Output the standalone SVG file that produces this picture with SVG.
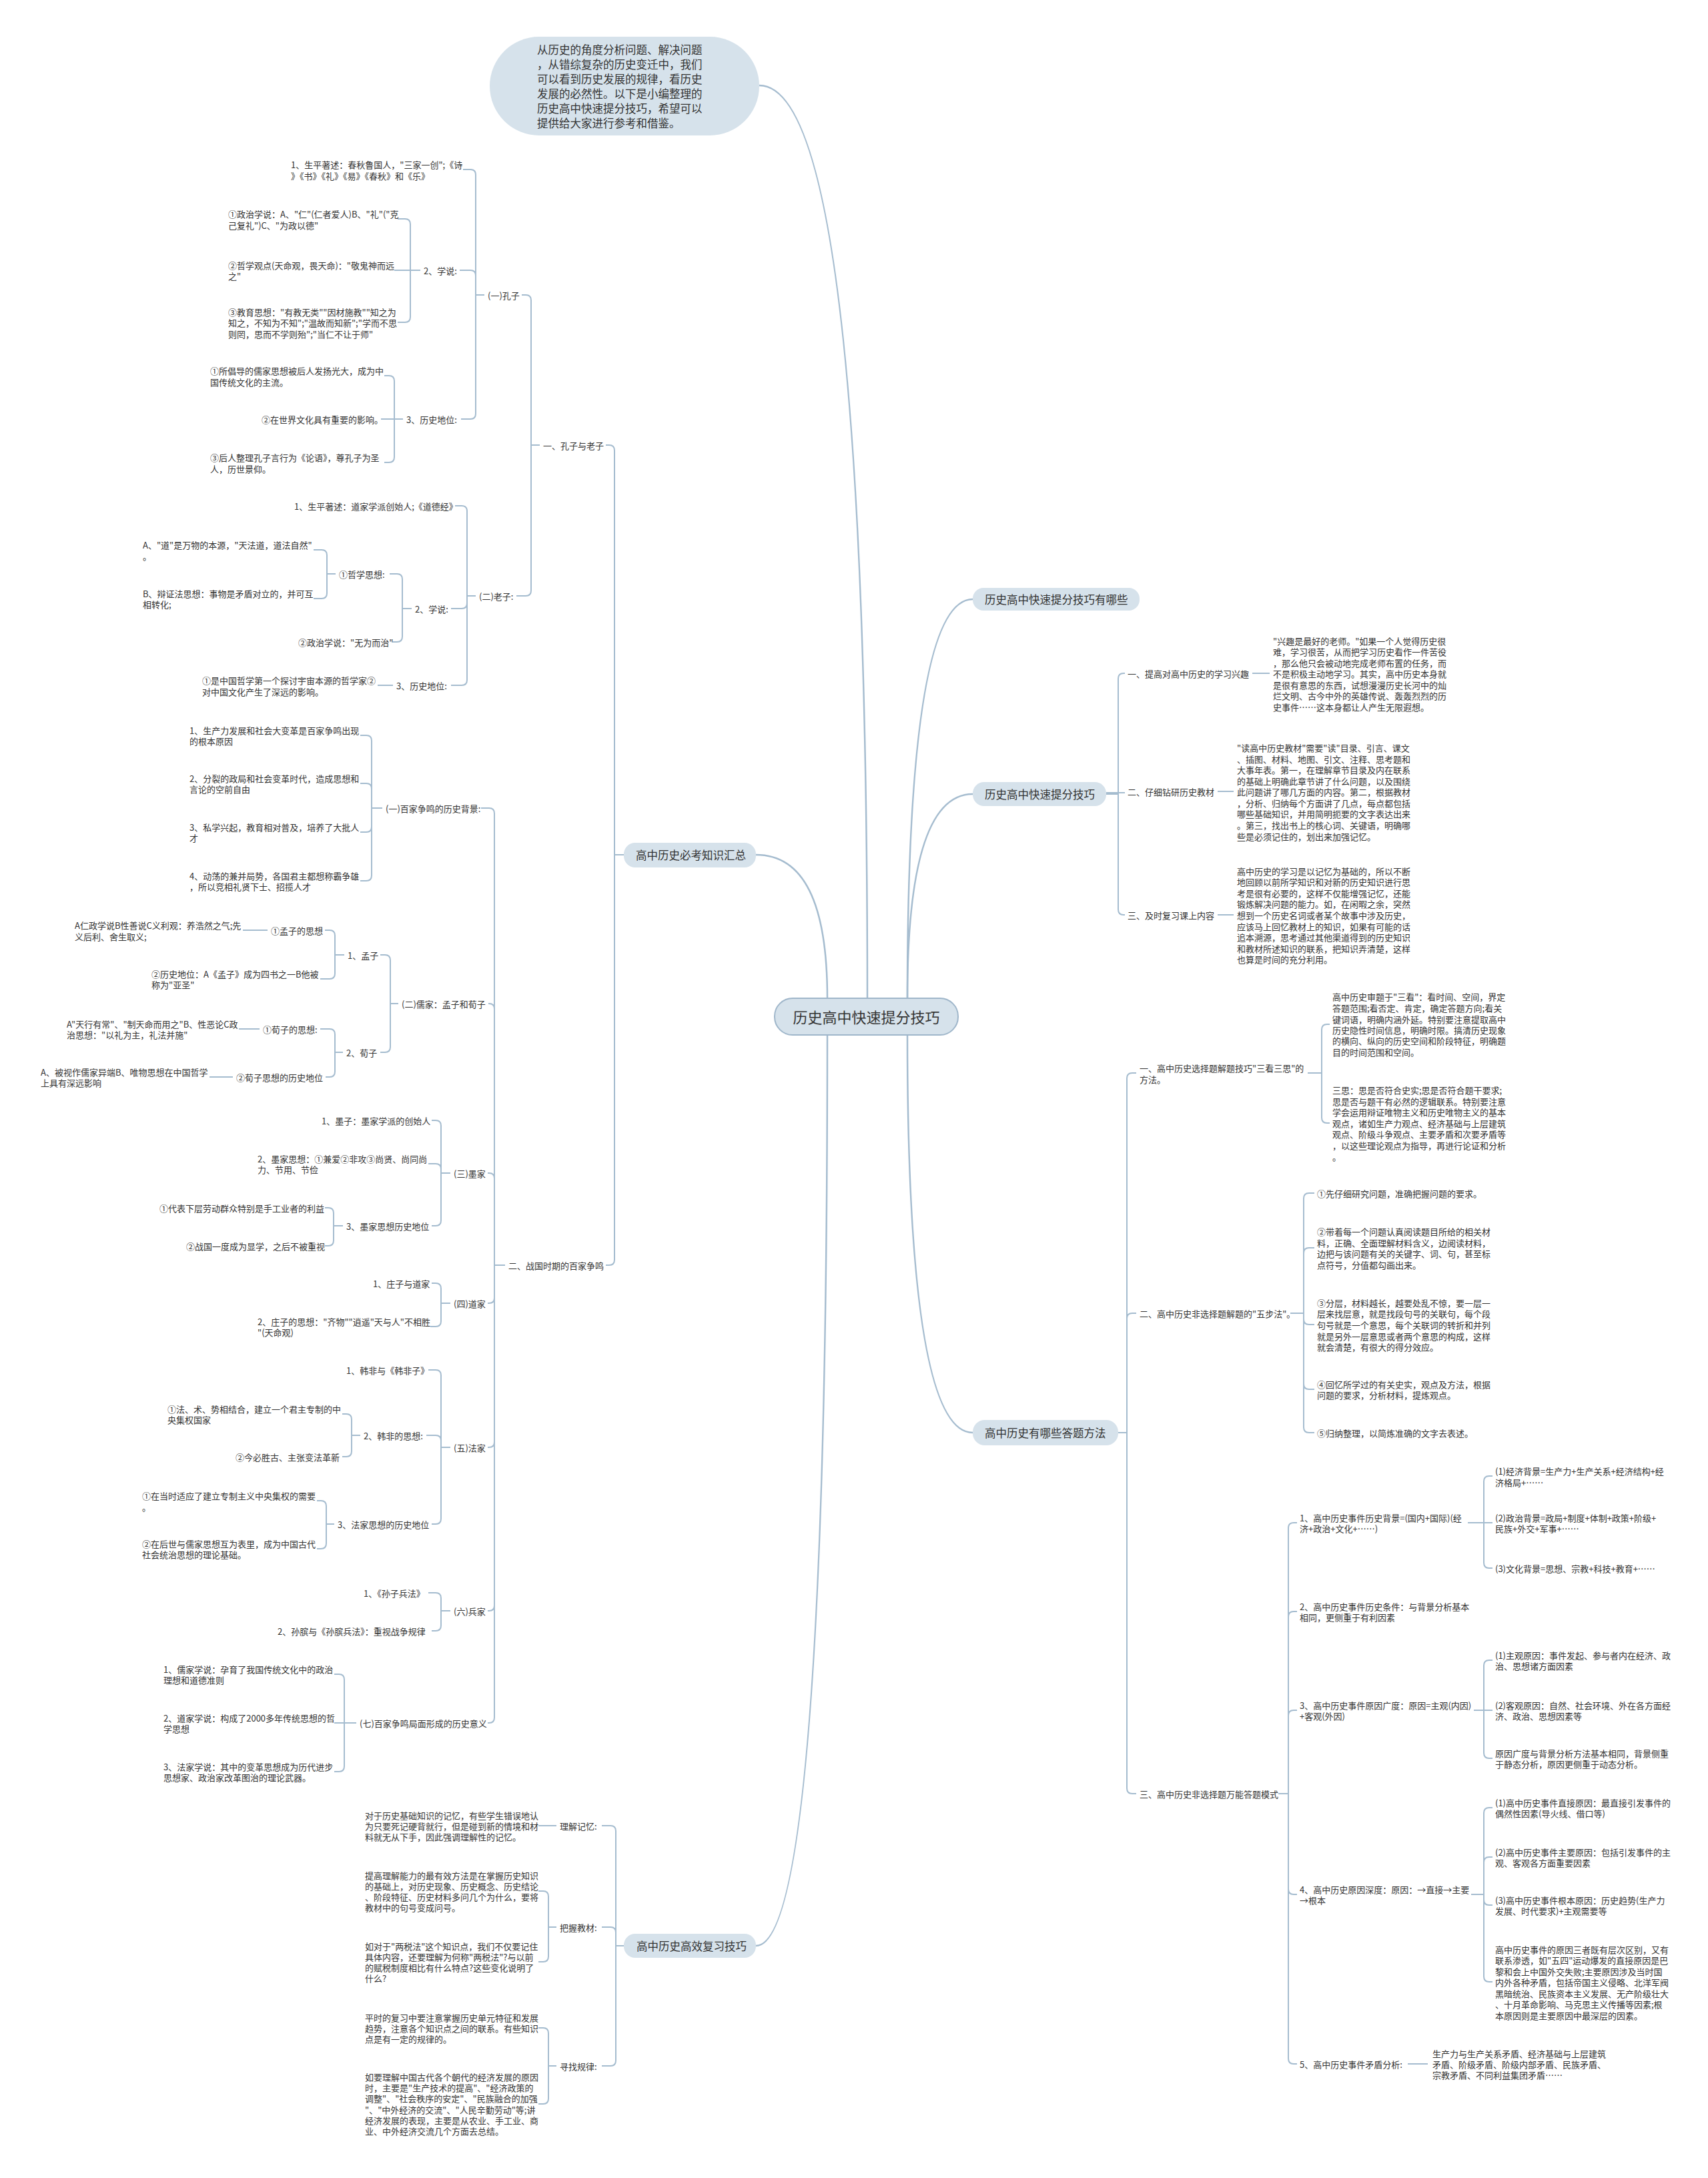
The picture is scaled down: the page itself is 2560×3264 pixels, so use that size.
<svg xmlns="http://www.w3.org/2000/svg" width="2560" height="3264" viewBox="0 0 2560 3264">
<style>
text{font-family:"Noto Sans CJK SC","Noto Sans",sans-serif;font-size:13px;fill:#333;dominant-baseline:central}
.n{font-size:16.5px}
.c{font-size:22px}
.l path{fill:none;stroke:#a5bccf;stroke-width:2}
.l .m{stroke-width:2.5}
.b{fill:#d6e2eb}
.cb{fill:#d6e2eb;stroke:#9fb6ca;stroke-width:2}
</style>
<rect x="0" y="0" width="2560" height="3264" fill="#ffffff"/>
<g id="connectors" class="l">
<path class="m" d="M 1300 1496 Q 1300 128 1138 128"/>
<path class="m" d="M 1240 1496 Q 1240 1281 1133 1281"/>
<path class="m" d="M 1240 1551 Q 1240 2916 1133 2916"/>
<path class="m" d="M 1360 1496 Q 1360 898 1458 898"/>
<path class="m" d="M 1360 1496 Q 1360 1190 1458 1190"/>
<path class="m" d="M 1360 1551 Q 1360 2147 1458 2147"/>
<path d="M 935 1281 H 921 V 675 Q 921 667 913 667 H 908"/>
<path d="M 935 1281 H 921 V 1888 Q 921 1896 913 1896 H 908"/>
<path d="M 809 667 H 796 V 450 Q 796 442 788 442 H 782"/>
<path d="M 809 667 H 796 V 885 Q 796 893 788 893 H 774"/>
<path d="M 726 442 H 713 V 262 Q 713 254 705 254 H 694"/>
<path d="M 726 442 H 713 V 413 Q 713 405 705 405 H 689"/>
<path d="M 726 442 H 713 V 620 Q 713 628 705 628 H 691"/>
<path d="M 630 405 H 615 V 336 Q 615 328 607 328 H 596"/>
<path d="M 630 405 H 591"/>
<path d="M 630 405 H 615 V 475 Q 615 483 607 483 H 596"/>
<path d="M 604 628 H 591 V 571 Q 591 563 583 563 H 576"/>
<path d="M 604 628 H 571"/>
<path d="M 604 628 H 591 V 685 Q 591 693 583 693 H 576"/>
<path d="M 713 893 H 700 V 766 Q 700 758 692 758 H 682"/>
<path d="M 713 893 H 700 V 904 Q 700 912 692 912 H 676"/>
<path d="M 713 893 H 700 V 1019 Q 700 1027 692 1027 H 676"/>
<path d="M 617 912 H 603 V 868 Q 603 860 595 860 H 584"/>
<path d="M 617 912 H 603 V 954 Q 603 962 595 962 H 587"/>
<path d="M 503 860 H 490 V 832 Q 490 824 482 824 H 470"/>
<path d="M 503 860 H 490 V 889 Q 490 897 482 897 H 470"/>
<path d="M 589 1027 H 566"/>
<path d="M 757 1896 H 741 V 1219 Q 741 1211 733 1211 H 721"/>
<path d="M 757 1896 H 741 V 1512 Q 741 1504 733 1504 H 732"/>
<path d="M 757 1896 H 741 V 1766 Q 741 1758 733 1758 H 731"/>
<path d="M 757 1896 H 741 V 1945 Q 741 1953 733 1953 H 731"/>
<path d="M 757 1896 H 741 V 2161 Q 741 2169 733 2169 H 731"/>
<path d="M 757 1896 H 741 V 2406 Q 741 2414 733 2414 H 731"/>
<path d="M 757 1896 H 741 V 2574 Q 741 2582 733 2582 H 731"/>
<path d="M 573 1211 H 557 V 1110 Q 557 1102 549 1102 H 540"/>
<path d="M 573 1211 H 557 V 1182 Q 557 1174 549 1174 H 540"/>
<path d="M 573 1211 H 557 V 1239 Q 557 1247 549 1247 H 540"/>
<path d="M 573 1211 H 557 V 1312 Q 557 1320 549 1320 H 540"/>
<path d="M 597 1504 H 585 V 1439 Q 585 1431 577 1431 H 570"/>
<path d="M 597 1504 H 585 V 1569 Q 585 1577 577 1577 H 570"/>
<path d="M 516 1431 H 502 V 1402 Q 502 1394 494 1394 H 487"/>
<path d="M 516 1431 H 502 V 1459 Q 502 1467 494 1467 H 480"/>
<path d="M 401 1394 H 364"/>
<path d="M 514 1577 H 502 V 1550 Q 502 1542 494 1542 H 480"/>
<path d="M 514 1577 H 502 V 1606 Q 502 1614 494 1614 H 488"/>
<path d="M 389 1542 H 358"/>
<path d="M 349 1614 H 314"/>
<path d="M 675 1758 H 661 V 1687 Q 661 1679 653 1679 H 647"/>
<path d="M 675 1758 H 661 V 1752 Q 661 1744 653 1744 H 642"/>
<path d="M 675 1758 H 661 V 1829 Q 661 1837 653 1837 H 647"/>
<path d="M 514 1837 H 500 V 1818 Q 500 1810 492 1810 H 487"/>
<path d="M 514 1837 H 500 V 1859 Q 500 1867 492 1867 H 487"/>
<path d="M 675 1953 H 661 V 1931 Q 661 1923 653 1923 H 647"/>
<path d="M 675 1953 H 661 V 1980 Q 661 1988 653 1988 H 645"/>
<path d="M 675 2169 H 661 V 2061 Q 661 2053 653 2053 H 642"/>
<path d="M 675 2169 H 661 V 2159 Q 661 2151 653 2151 H 639"/>
<path d="M 675 2169 H 661 V 2276 Q 661 2284 653 2284 H 647"/>
<path d="M 540 2151 H 527 V 2127 Q 527 2119 519 2119 H 513"/>
<path d="M 540 2151 H 527 V 2175 Q 527 2183 519 2183 H 513"/>
<path d="M 501 2284 H 489 V 2257 Q 489 2249 481 2249 H 475"/>
<path d="M 501 2284 H 489 V 2313 Q 489 2321 481 2321 H 475"/>
<path d="M 675 2414 H 661 V 2395 Q 661 2387 653 2387 H 642"/>
<path d="M 675 2414 H 661 V 2436 Q 661 2444 653 2444 H 647"/>
<path d="M 534 2582 H 516 V 2517 Q 516 2509 508 2509 H 501"/>
<path d="M 534 2582 H 501"/>
<path d="M 534 2582 H 516 V 2647 Q 516 2655 508 2655 H 501"/>
<path d="M 935 2916 H 923 V 2744 Q 923 2736 915 2736 H 902"/>
<path d="M 935 2916 H 923 V 2896 Q 923 2888 915 2888 H 902"/>
<path d="M 935 2916 H 923 V 3088 Q 923 3096 915 3096 H 902"/>
<path d="M 834 2736 H 807"/>
<path d="M 834 2888 H 822 V 2842 Q 822 2834 814 2834 H 807"/>
<path d="M 834 2888 H 822 V 2932 Q 822 2940 814 2940 H 807"/>
<path d="M 834 3096 H 822 V 3047 Q 822 3039 814 3039 H 807"/>
<path d="M 834 3096 H 822 V 3145 Q 822 3153 814 3153 H 807"/>
<path d="M 1658 1190 H 1676 V 1017 Q 1676 1009 1684 1009 H 1686"/>
<path d="M 1658 1188 H 1686"/>
<path d="M 1658 1190 H 1676 V 1363 Q 1676 1371 1684 1371 H 1686"/>
<path d="M 1877 1009 H 1903"/>
<path d="M 1825 1186 H 1849"/>
<path d="M 1825 1371 H 1849"/>
<path d="M 1676 2147 H 1689 V 1616 Q 1689 1608 1697 1608 H 1703"/>
<path d="M 1676 2147 H 1689 V 1976 Q 1689 1968 1697 1968 H 1703"/>
<path d="M 1676 2147 H 1689 V 2680 Q 1689 2688 1697 2688 H 1703"/>
<path d="M 1960 1608 H 1981 V 1543 Q 1981 1535 1989 1535 H 1993"/>
<path d="M 1960 1608 H 1981 V 1675 Q 1981 1683 1989 1683 H 1993"/>
<path d="M 1934 1968 H 1954 V 1796 Q 1954 1788 1962 1788 H 1970"/>
<path d="M 1934 1968 H 1954 V 1878 Q 1954 1870 1962 1870 H 1970"/>
<path d="M 1934 1968 H 1954 V 1977 Q 1954 1985 1962 1985 H 1970"/>
<path d="M 1934 1968 H 1954 V 2074 Q 1954 2082 1962 2082 H 1970"/>
<path d="M 1934 1968 H 1954 V 2139 Q 1954 2147 1962 2147 H 1970"/>
<path d="M 1916 2688 H 1931 V 2290 Q 1931 2282 1939 2282 H 1944"/>
<path d="M 1916 2688 H 1931 V 2423 Q 1931 2415 1939 2415 H 1944"/>
<path d="M 1916 2688 H 1931 V 2571 Q 1931 2563 1939 2563 H 1944"/>
<path d="M 1916 2688 H 1931 V 2831 Q 1931 2839 1939 2839 H 1944"/>
<path d="M 1916 2688 H 1931 V 3085 Q 1931 3093 1939 3093 H 1944"/>
<path d="M 2200 2282 H 2224 V 2220 Q 2224 2212 2232 2212 H 2237"/>
<path d="M 2200 2282 H 2237"/>
<path d="M 2200 2282 H 2224 V 2342 Q 2224 2350 2232 2350 H 2237"/>
<path d="M 2209 2563 H 2224 V 2496 Q 2224 2488 2232 2488 H 2237"/>
<path d="M 2209 2563 H 2237"/>
<path d="M 2209 2563 H 2224 V 2627 Q 2224 2635 2232 2635 H 2237"/>
<path d="M 2205 2839 H 2224 V 2717 Q 2224 2709 2232 2709 H 2237"/>
<path d="M 2205 2839 H 2224 V 2791 Q 2224 2783 2232 2783 H 2237"/>
<path d="M 2205 2839 H 2224 V 2847 Q 2224 2855 2232 2855 H 2237"/>
<path d="M 2205 2839 H 2224 V 2962 Q 2224 2970 2232 2970 H 2237"/>
<path d="M 2110 3093 H 2140"/>
</g>

<g id="root"><rect class="cb" x="1161" y="1496" width="275" height="55" rx="27"/><text class="c" x="1298.5" y="1523" text-anchor="middle">历史高中快速提分技巧</text></g>

<g id="intro"><rect class="b" x="734" y="55" width="404" height="148" rx="74"/>
<text class="n"><tspan x="805" y="74">从历史的角度分析问题、解决问题</tspan><tspan x="805" y="96">，从错综复杂的历史变迁中，我们</tspan><tspan x="805" y="118">可以看到历史发展的规律，看历史</tspan><tspan x="805" y="140">发展的必然性。以下是小编整理的</tspan><tspan x="805" y="162">历史高中快速提分技巧，希望可以</tspan><tspan x="805" y="184">提供给大家进行参考和借鉴。</tspan></text></g>

<g id="b-bikao"><rect class="b" x="935" y="1263" width="198" height="37" rx="17"/><text class="n" x="953" y="1281">高中历史必考知识汇总</text></g>
<g id="b-fuxi"><rect class="b" x="935" y="2898" width="198" height="36" rx="17"/><text class="n" x="954" y="2916">高中历史高效复习技巧</text></g>
<g id="b-youxie"><rect class="b" x="1458" y="881" width="250" height="34" rx="16"/><text class="n" x="1476" y="898">历史高中快速提分技巧有哪些</text></g>
<g id="b-jiqiao"><rect class="b" x="1458" y="1172" width="200" height="36" rx="17"/><text class="n" x="1476" y="1190">历史高中快速提分技巧</text></g>
<g id="b-fangfa"><rect class="b" x="1458" y="2128" width="218" height="38" rx="18"/><text class="n" x="1476" y="2147">高中历史有哪些答题方法</text></g>

<g id="n-kongzi-1"><text><tspan x="436" y="246">1、生平著述：春秋鲁国人，"三家一创";《诗</tspan><tspan x="436" y="263">》《书》《礼》《易》《春秋》和《乐》</tspan></text></g>
<g id="n-kongzi-2"><text x="635" y="405">2、学说:</text></g>
<g id="n-kongzi-2a"><text><tspan x="342" y="320">①政治学说：A、"仁"(仁者爱人)B、"礼"("克</tspan><tspan x="342" y="337">己复礼")C、"为政以德"</tspan></text></g>
<g id="n-kongzi-2b"><text><tspan x="342" y="397">②哲学观点(天命观，畏天命)："敬鬼神而远</tspan><tspan x="342" y="413">之"</tspan></text></g>
<g id="n-kongzi-2c"><text><tspan x="342" y="467">③教育思想："有教无类""因材施教""知之为</tspan><tspan x="342" y="483">知之，不知为不知";"温故而知新";"学而不思</tspan><tspan x="342" y="500">则罔，思而不学则殆";"当仁不让于师"</tspan></text></g>
<g id="n-kongzi"><text x="731" y="442">(一)孔子</text></g>
<g id="n-kongzi-3"><text x="609" y="628">3、历史地位:</text></g>
<g id="n-kongzi-3a"><text><tspan x="315" y="555">①所倡导的儒家思想被后人发扬光大，成为中</tspan><tspan x="315" y="572">国传统文化的主流。</tspan></text></g>
<g id="n-kongzi-3b"><text x="392" y="628">②在世界文化具有重要的影响。</text></g>
<g id="n-kongzi-3c"><text><tspan x="315" y="685">③后人整理孔子言行为《论语》，尊孔子为圣</tspan><tspan x="315" y="702">人，历世景仰。</tspan></text></g>
<g id="n-yi"><text x="814" y="667">一、孔子与老子</text></g>
<g id="n-laozi-1"><text x="441" y="758">1、生平著述：道家学派创始人;《道德经》</text></g>
<g id="n-laozi-2a1"><text><tspan x="214" y="816">A、"道"是万物的本源，"天法道，道法自然"</tspan><tspan x="214" y="833">。</tspan></text></g>
<g id="n-laozi-2a2"><text><tspan x="214" y="889">B、辩证法思想：事物是矛盾对立的，并可互</tspan><tspan x="214" y="905">相转化;</tspan></text></g>
<g id="n-laozi-2a"><text x="508" y="860">①哲学思想:</text></g>
<g id="n-laozi-2b"><text x="447" y="962">②政治学说："无为而治"</text></g>
<g id="n-laozi-2"><text x="622" y="912">2、学说:</text></g>
<g id="n-laozi"><text x="718" y="893">(二)老子:</text></g>
<g id="n-laozi-3a"><text><tspan x="303" y="1019">①是中国哲学第一个探讨宇宙本源的哲学家②</tspan><tspan x="303" y="1036">对中国文化产生了深远的影响。</tspan></text></g>
<g id="n-laozi-3"><text x="594" y="1027">3、历史地位:</text></g>

<g id="n-bj-1"><text><tspan x="284" y="1094">1、生产力发展和社会大变革是百家争鸣出现</tspan><tspan x="284" y="1110">的根本原因</tspan></text></g>
<g id="n-bj-2"><text><tspan x="284" y="1166">2、分裂的政局和社会变革时代，造成思想和</tspan><tspan x="284" y="1182">言论的空前自由</tspan></text></g>
<g id="n-bj-3"><text><tspan x="284" y="1239">3、私学兴起，教育相对普及，培养了大批人</tspan><tspan x="284" y="1255">才</tspan></text></g>
<g id="n-bj-4"><text><tspan x="284" y="1312">4、动荡的兼并局势，各国君主都想称霸争雄</tspan><tspan x="284" y="1328">，所以竞相礼贤下士、招揽人才</tspan></text></g>
<g id="n-bj"><text x="578" y="1211">(一)百家争鸣的历史背景:</text></g>
<g id="n-mz-1a1"><text><tspan x="112" y="1386">A仁政学说B性善说C义利观：养浩然之气;先</tspan><tspan x="112" y="1403">义后利、舍生取义;</tspan></text></g>
<g id="n-mz-1a"><text x="406" y="1394">①孟子的思想</text></g>
<g id="n-mz-1b"><text><tspan x="227" y="1459">②历史地位：A《孟子》成为四书之一B他被</tspan><tspan x="227" y="1475">称为"亚圣"</tspan></text></g>
<g id="n-mz"><text x="521" y="1431">1、孟子</text></g>
<g id="n-rujia"><text x="602" y="1504">(二)儒家：孟子和荀子</text></g>
<g id="n-xz-1a1"><text><tspan x="100" y="1534">A"天行有常"、"制天命而用之"B、性恶论C政</tspan><tspan x="100" y="1550">治思想："以礼为主，礼法并施"</tspan></text></g>
<g id="n-xz-1a"><text x="394" y="1542">①荀子的思想:</text></g>
<g id="n-xz"><text x="519" y="1577">2、荀子</text></g>
<g id="n-xz-1b1"><text><tspan x="61" y="1606">A、被视作儒家异端B、唯物思想在中国哲学</tspan><tspan x="61" y="1622">上具有深远影响</tspan></text></g>
<g id="n-xz-1b"><text x="354" y="1614">②荀子思想的历史地位</text></g>
<g id="n-mo-1"><text x="482" y="1679">1、墨子：墨家学派的创始人</text></g>
<g id="n-mo-2"><text><tspan x="386" y="1736">2、墨家思想：①兼爱②非攻③尚贤、尚同尚</tspan><tspan x="386" y="1752">力、节用、节俭</tspan></text></g>
<g id="n-mo"><text x="680" y="1758">(三)墨家</text></g>
<g id="n-mo-3a"><text x="239" y="1810">①代表下层劳动群众特别是手工业者的利益</text></g>
<g id="n-mo-3b"><text x="279" y="1867">②战国一度成为显学，之后不被重视</text></g>
<g id="n-mo-3"><text x="519" y="1837">3、墨家思想历史地位</text></g>
<g id="n-er"><text x="762" y="1896">二、战国时期的百家争鸣</text></g>
<g id="n-dao-1"><text x="559" y="1923">1、庄子与道家</text></g>
<g id="n-dao"><text x="680" y="1953">(四)道家</text></g>
<g id="n-dao-2"><text><tspan x="386" y="1980">2、庄子的思想："齐物""逍遥"天与人"不相胜</tspan><tspan x="386" y="1996">"(天命观)</tspan></text></g>
<g id="n-fa-1"><text x="519" y="2053">1、韩非与《韩非子》</text></g>
<g id="n-fa-2a"><text><tspan x="251" y="2111">①法、术、势相结合，建立一个君主专制的中</tspan><tspan x="251" y="2127">央集权国家</tspan></text></g>
<g id="n-fa-2"><text x="545" y="2151">2、韩非的思想:</text></g>
<g id="n-fa-2b"><text x="353" y="2183">②今必胜古、主张变法革新</text></g>
<g id="n-fa"><text x="680" y="2169">(五)法家</text></g>
<g id="n-fa-3a"><text><tspan x="213" y="2241">①在当时适应了建立专制主义中央集权的需要</tspan><tspan x="213" y="2258">。</tspan></text></g>
<g id="n-fa-3"><text x="506" y="2284">3、法家思想的历史地位</text></g>
<g id="n-fa-3b"><text><tspan x="213" y="2313">②在后世与儒家思想互为表里，成为中国古代</tspan><tspan x="213" y="2329">社会统治思想的理论基础。</tspan></text></g>
<g id="n-bing-1"><text x="545" y="2387">1、《孙子兵法》</text></g>
<g id="n-bing"><text x="680" y="2414">(六)兵家</text></g>
<g id="n-bing-2"><text x="416" y="2444">2、孙膑与《孙膑兵法》：重视战争规律</text></g>
<g id="n-yy-1"><text><tspan x="245" y="2501">1、儒家学说：孕育了我国传统文化中的政治</tspan><tspan x="245" y="2517">理想和道德准则</tspan></text></g>
<g id="n-yy-2"><text><tspan x="245" y="2574">2、道家学说：构成了2000多年传统思想的哲</tspan><tspan x="245" y="2590">学思想</tspan></text></g>
<g id="n-yy-3"><text><tspan x="245" y="2647">3、法家学说：其中的变革思想成为历代进步</tspan><tspan x="245" y="2663">思想家、政治家改革图治的理论武器。</tspan></text></g>
<g id="n-yy"><text x="539" y="2582">(七)百家争鸣局面形成的历史意义</text></g>

<g id="n-fx-1a"><text><tspan x="547" y="2720">对于历史基础知识的记忆，有些学生错误地认</tspan><tspan x="547" y="2736">为只要死记硬背就行，但是碰到新的情境和材</tspan><tspan x="547" y="2752">料就无从下手，因此强调理解性的记忆。</tspan></text></g>
<g id="n-fx-1"><text x="839" y="2736">理解记忆:</text></g>
<g id="n-fx-2a"><text><tspan x="547" y="2810">提高理解能力的最有效方法是在掌握历史知识</tspan><tspan x="547" y="2826">的基础上，对历史现象、历史概念、历史结论</tspan><tspan x="547" y="2842">、阶段特征、历史材料多问几个为什么，要将</tspan><tspan x="547" y="2858">教材中的句号变成问号。</tspan></text></g>
<g id="n-fx-2b"><text><tspan x="547" y="2916">如对于"两税法"这个知识点，我们不仅要记住</tspan><tspan x="547" y="2932">具体内容，还要理解为何称"两税法"?与以前</tspan><tspan x="547" y="2948">的赋税制度相比有什么特点?这些变化说明了</tspan><tspan x="547" y="2964">什么?</tspan></text></g>
<g id="n-fx-2"><text x="839" y="2888">把握教材:</text></g>
<g id="n-fx-3a"><text><tspan x="547" y="3023">平时的复习中要注意掌握历史单元特征和发展</tspan><tspan x="547" y="3039">趋势，注意各个知识点之间的联系。有些知识</tspan><tspan x="547" y="3055">点是有一定的规律的。</tspan></text></g>
<g id="n-fx-3b"><text><tspan x="547" y="3112">如要理解中国古代各个朝代的经济发展的原因</tspan><tspan x="547" y="3128">时，主要是"生产技术的提高"、"经济政策的</tspan><tspan x="547" y="3144">调整"、"社会秩序的安定"、"民族融合的加强</tspan><tspan x="547" y="3161">"、"中外经济的交流"、"人民辛勤劳动"等;讲</tspan><tspan x="547" y="3177">经济发展的表现，主要是从农业、手工业、商</tspan><tspan x="547" y="3193">业、中外经济交流几个方面去总结。</tspan></text></g>
<g id="n-fx-3"><text x="839" y="3096">寻找规律:</text></g>

<g id="n-jq-1"><text x="1690" y="1009">一、提高对高中历史的学习兴趣</text></g>
<g id="n-jq-1a"><text><tspan x="1908" y="960">"兴趣是最好的老师。"如果一个人觉得历史很</tspan><tspan x="1908" y="976">难，学习很苦，从而把学习历史看作一件苦役</tspan><tspan x="1908" y="993">，那么他只会被动地完成老师布置的任务，而</tspan><tspan x="1908" y="1009">不是积极主动地学习。其实，高中历史本身就</tspan><tspan x="1908" y="1026">是很有意思的东西，试想漫漫历史长河中的灿</tspan><tspan x="1908" y="1042">烂文明、古今中外的英雄传说、轰轰烈烈的历</tspan><tspan x="1908" y="1059">史事件……这本身都让人产生无限遐想。</tspan></text></g>
<g id="n-jq-2"><text x="1690" y="1186">二、仔细钻研历史教材</text></g>
<g id="n-jq-2a"><text><tspan x="1854" y="1120">"读高中历史教材"需要"读"目录、引言、课文</tspan><tspan x="1854" y="1137">、插图、材料、地图、引文、注释、思考题和</tspan><tspan x="1854" y="1153">大事年表。第一，在理解章节目录及内在联系</tspan><tspan x="1854" y="1170">的基础上明确此章节讲了什么问题，以及围绕</tspan><tspan x="1854" y="1186">此问题讲了哪几方面的内容。第二，根据教材</tspan><tspan x="1854" y="1203">，分析、归纳每个方面讲了几点，每点都包括</tspan><tspan x="1854" y="1219">哪些基础知识，并用简明扼要的文字表达出来</tspan><tspan x="1854" y="1236">。第三，找出书上的核心词、关键语，明确哪</tspan><tspan x="1854" y="1253">些是必须记住的，划出来加强记忆。</tspan></text></g>
<g id="n-jq-3"><text x="1690" y="1371">三、及时复习课上内容</text></g>
<g id="n-jq-3a"><text><tspan x="1854" y="1305">高中历史的学习是以记忆为基础的，所以不断</tspan><tspan x="1854" y="1321">地回顾以前所学知识和对新的历史知识进行思</tspan><tspan x="1854" y="1338">考是很有必要的，这样不仅能增强记忆，还能</tspan><tspan x="1854" y="1354">锻炼解决问题的能力。如，在闲暇之余，突然</tspan><tspan x="1854" y="1371">想到一个历史名词或者某个故事中涉及历史，</tspan><tspan x="1854" y="1388">应该马上回忆教材上的知识，如果有可能的话</tspan><tspan x="1854" y="1404">追本溯源，思考通过其他渠道得到的历史知识</tspan><tspan x="1854" y="1421">和教材所述知识的联系，把知识弄清楚，这样</tspan><tspan x="1854" y="1437">也算是时间的充分利用。</tspan></text></g>

<g id="n-ff-1"><text><tspan x="1708" y="1600">一、高中历史选择题解题技巧"三看三思"的</tspan><tspan x="1708" y="1617">方法。</tspan></text></g>
<g id="n-ff-1a"><text><tspan x="1997" y="1493">高中历史审题于"三看"：看时间、空间，界定</tspan><tspan x="1997" y="1510">答题范围;看否定、肯定，确定答题方向;看关</tspan><tspan x="1997" y="1527">键词语，明确内涵外延。特别要注意提取高中</tspan><tspan x="1997" y="1543">历史隐性时间信息，明确时限。搞清历史现象</tspan><tspan x="1997" y="1559">的横向、纵向的历史空间和阶段特征，明确题</tspan><tspan x="1997" y="1576">目的时间范围和空间。</tspan></text></g>
<g id="n-ff-1b"><text><tspan x="1997" y="1633">三思：思是否符合史实;思是否符合题干要求;</tspan><tspan x="1997" y="1650">思是否与题干有必然的逻辑联系。特别要注意</tspan><tspan x="1997" y="1666">学会运用辩证唯物主义和历史唯物主义的基本</tspan><tspan x="1997" y="1683">观点，诸如生产力观点、经济基础与上层建筑</tspan><tspan x="1997" y="1699">观点、阶级斗争观点、主要矛盾和次要矛盾等</tspan><tspan x="1997" y="1716">，以这些理论观点为指导，再进行论证和分析</tspan><tspan x="1997" y="1733">。</tspan></text></g>
<g id="n-ff-2a"><text x="1974" y="1788">①先仔细研究问题，准确把握问题的要求。</text></g>
<g id="n-ff-2b"><text><tspan x="1974" y="1845">②带着每一个问题认真阅读题目所给的相关材</tspan><tspan x="1974" y="1862">料，正确、全面理解材料含义，边阅读材料，</tspan><tspan x="1974" y="1878">边把与该问题有关的关键字、词、句，甚至标</tspan><tspan x="1974" y="1895">点符号，分值都勾画出来。</tspan></text></g>
<g id="n-ff-2"><text x="1708" y="1968">二、高中历史非选择题解题的"五步法"。</text></g>
<g id="n-ff-2c"><text><tspan x="1974" y="1952">③分层，材料越长，越要处乱不惊，要一层一</tspan><tspan x="1974" y="1968">层来找层意，就是找段句号的关联句，每个段</tspan><tspan x="1974" y="1985">句号就是一个意思，每个关联词的转折和并列</tspan><tspan x="1974" y="2002">就是另外一层意思或者两个意思的构成，这样</tspan><tspan x="1974" y="2018">就会清楚，有很大的得分效应。</tspan></text></g>
<g id="n-ff-2d"><text><tspan x="1974" y="2074">④回忆所学过的有关史实，观点及方法，根据</tspan><tspan x="1974" y="2090">问题的要求，分析材料，提炼观点。</tspan></text></g>
<g id="n-ff-2e"><text x="1974" y="2147">⑤归纳整理，以简炼准确的文字去表述。</text></g>
<g id="n-ff-3-1"><text><tspan x="1948" y="2274">1、高中历史事件历史背景=(国内+国际)(经</tspan><tspan x="1948" y="2290">济+政治+文化+……)</tspan></text></g>
<g id="n-ff-3-1a"><text><tspan x="2241" y="2204">(1)经济背景=生产力+生产关系+经济结构+经</tspan><tspan x="2241" y="2221">济格局+……</tspan></text></g>
<g id="n-ff-3-1b"><text><tspan x="2241" y="2274">(2)政治背景=政局+制度+体制+政策+阶级+</tspan><tspan x="2241" y="2290">民族+外交+军事+……</tspan></text></g>
<g id="n-ff-3-1c"><text x="2241" y="2350">(3)文化背景=思想、宗教+科技+教育+……</text></g>
<g id="n-ff-3-2"><text><tspan x="1948" y="2407">2、高中历史事件历史条件：与背景分析基本</tspan><tspan x="1948" y="2423">相同，更侧重于有利因素</tspan></text></g>
<g id="n-ff-3-3a"><text><tspan x="2241" y="2480">(1)主观原因：事件发起、参与者内在经济、政</tspan><tspan x="2241" y="2496">治、思想诸方面因素</tspan></text></g>
<g id="n-ff-3-3"><text><tspan x="1948" y="2555">3、高中历史事件原因广度：原因=主观(内因)</tspan><tspan x="1948" y="2571">+客观(外因)</tspan></text></g>
<g id="n-ff-3-3b"><text><tspan x="2241" y="2555">(2)客观原因：自然、社会环境、外在各方面经</tspan><tspan x="2241" y="2571">济、政治、思想因素等</tspan></text></g>
<g id="n-ff-3-3c"><text><tspan x="2241" y="2627">原因广度与背景分析方法基本相同，背景侧重</tspan><tspan x="2241" y="2643">于静态分析，原因更侧重于动态分析。</tspan></text></g>
<g id="n-ff-3"><text x="1708" y="2688">三、高中历史非选择题万能答题模式</text></g>
<g id="n-ff-3-4a"><text><tspan x="2241" y="2701">(1)高中历史事件直接原因：最直接引发事件的</tspan><tspan x="2241" y="2717">偶然性因素(导火线、借口等)</tspan></text></g>
<g id="n-ff-3-4b"><text><tspan x="2241" y="2775">(2)高中历史事件主要原因：包括引发事件的主</tspan><tspan x="2241" y="2791">观、客观各方面重要因素</tspan></text></g>
<g id="n-ff-3-4"><text><tspan x="1948" y="2831">4、高中历史原因深度：原因：→直接→主要</tspan><tspan x="1948" y="2847">→根本</tspan></text></g>
<g id="n-ff-3-4c"><text><tspan x="2241" y="2847">(3)高中历史事件根本原因：历史趋势(生产力</tspan><tspan x="2241" y="2863">发展、时代要求)+主观需要等</tspan></text></g>
<g id="n-ff-3-4d"><text><tspan x="2241" y="2921">高中历史事件的原因三者既有层次区别，又有</tspan><tspan x="2241" y="2937">联系渗透，如"五四"运动爆发的直接原因是巴</tspan><tspan x="2241" y="2954">黎和会上中国外交失败;主要原因涉及当时国</tspan><tspan x="2241" y="2970">内外各种矛盾，包括帝国主义侵略、北洋军阀</tspan><tspan x="2241" y="2987">黑暗统治、民族资本主义发展、无产阶级壮大</tspan><tspan x="2241" y="3003">、十月革命影响、马克思主义传播等因素;根</tspan><tspan x="2241" y="3020">本原因则是主要原因中最深层的因素。</tspan></text></g>
<g id="n-ff-3-5"><text x="1948" y="3093">5、高中历史事件矛盾分析:</text></g>
<g id="n-ff-3-5a"><text><tspan x="2147" y="3077">生产力与生产关系矛盾、经济基础与上层建筑</tspan><tspan x="2147" y="3093">矛盾、阶级矛盾、阶级内部矛盾、民族矛盾、</tspan><tspan x="2147" y="3109">宗教矛盾、不同利益集团矛盾……</tspan></text></g>
</svg>
